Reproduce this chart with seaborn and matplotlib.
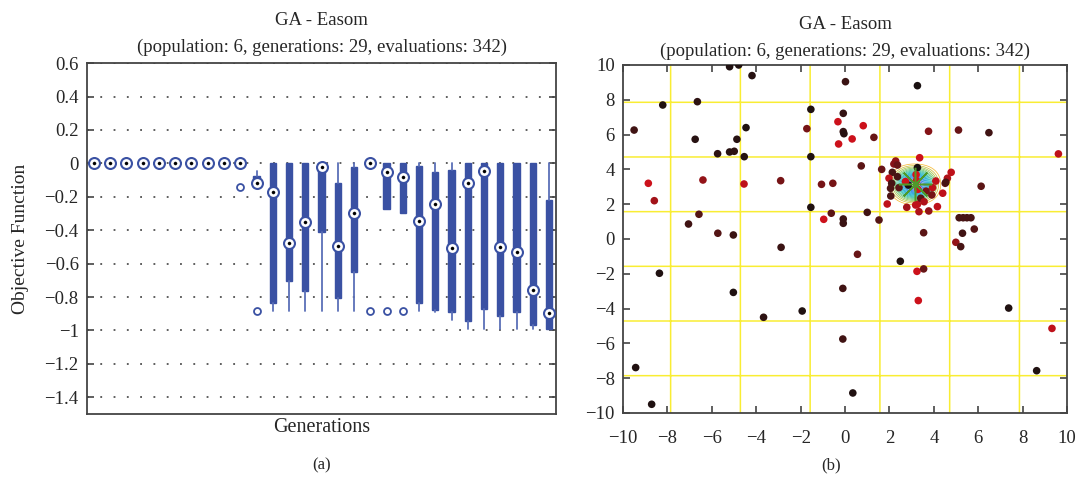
import numpy as np
import pandas as pd
import matplotlib
matplotlib.use("Agg")
import matplotlib.pyplot as plt
import seaborn as sns
from matplotlib.colors import LinearSegmentedColormap

# ---------------- Panel (a): per-generation box summaries ----------------
generations = list(range(1, 30))
box_median = [0, 0, 0, 0, 0, 0, 0, 0, 0, 0,
              -0.115, -0.171, -0.478, -0.348, -0.024, -0.497, -0.298, 0.0, -0.052, -0.082,
              -0.344, -0.245, -0.505, -0.117, -0.048, -0.503, -0.531, -0.760, -0.895]
box_q1 = [0] * 10 + [-0.141, -0.836, -0.704, -0.764, -0.412, -0.806, -0.650, 0.0, -0.275, -0.298,
                     -0.836, -0.877, -0.889, -0.943, -0.871, -0.913, -0.889, -0.967, -0.990]
box_q3 = [0] * 10 + [-0.075, 0, 0, 0, 0, -0.119, -0.020, 0, 0, 0,
                     -0.016, -0.050, -0.038, 0, 0, 0, 0, 0, -0.217]
whisker_low = [0] * 10 + [-0.141, -0.886, -0.886, -0.886, -0.886, -0.886, -0.886, 0.0, -0.275, -0.298,
                          -0.886, -0.890, -0.939, -0.989, -0.990, -0.990, -0.990, -0.990, -0.990]
whisker_high = [0] * 10 + [-0.048] + [0] * 18
outliers = [[]] * 9 + [[-0.141], [-0.886]] + [[]] * 6 + [[-0.886], [-0.886], [-0.886]] + [[]] * 9
ytick_values = [-1.4, -1.2, -1.0, -0.8, -0.6, -0.4, -0.2, 0.0, 0.2, 0.4, 0.6]
ytick_labels = ["\u22121.4", "\u22121.2", "\u22121", "\u22120.8", "\u22120.6", "\u22120.4",
                "\u22120.2", "0", "0.2", "0.4", "0.6"]

# ---------------- Panel (b): evaluated points ----------------
pt_x = [-9.50, -8.21, -8.86, -8.59, -6.65, -6.75, -6.40, -6.58, -7.05, -5.74,
        -5.20, -4.99, -4.87, -5.20, -4.79, -4.19, -4.46, -4.54, -4.55, -2.90,
        -1.72, -1.54, -1.54, -1.54, -1.06, -0.55, -0.96, -0.62, -0.32, -0.29,
        0.02, 3.26, -0.08, -0.08, -0.05, 0.32, 0.82, 1.30, 3.76, 5.11,
        6.48, 9.61, 0.73, 1.65, -0.08, -0.08, 1.00, 1.53, 1.90, 2.78,
        3.33, 3.77, 4.16, 3.26, 4.40, 4.51, 4.61, 4.78, 6.13, 5.14,
        5.32, 5.49, 5.67, 5.29, 5.82, 3.54, 4.99, 5.21, 0.56, 2.49,
        3.24, 3.54, -0.10, 3.30, 7.37, 9.32, -0.10, 8.63, 0.35, -5.73,
        -5.03, -2.88, -8.36, -5.03, -3.67, -1.93, -9.43, -8.71,
        3.36, 2.28, 2.20, 2.13, 3.26, 4.54, 1.98, 2.36, 2.10, 2.05,
        2.43, 2.06, 2.85, 4.09, 3.94, 3.91, 3.41, 3.56, 3.18, 2.36,
        3.20, 3.22, 3.28, 2.72, 3.65]
pt_y = [6.26, 7.70, 3.20, 2.20, 7.89, 5.73, 3.39, 1.42, 0.86, 4.90,
        5.00, 5.04, 5.73, 9.90, 10.0, 9.39, 6.40, 4.73, 3.16, 3.35,
        6.34, 7.45, 4.73, 1.82, 3.14, 3.20, 1.13, 1.48, 6.74, 5.46,
        9.04, 8.81, 7.22, 6.17, 6.05, 5.75, 6.51, 5.84, 6.19, 6.26,
        6.11, 4.89, 4.20, 4.00, 1.15, 0.90, 1.53, 1.09, 2.01, 1.82,
        1.57, 1.61, 1.86, 1.99, 2.63, 3.20, 3.49, 3.83, 3.03, 1.22,
        1.22, 1.22, 1.22, 0.33, 0.57, 0.36, -0.19, -0.44, -0.88, -1.28,
        -1.86, -1.72, -2.84, -3.54, -3.97, -5.14, -5.75, -7.57, -8.85, 0.33,
        0.23, -0.48, -1.97, -3.07, -4.50, -4.14, -7.39, -9.50,
        4.67, 4.48, 4.31, 3.83, 4.10, 3.26, 3.49, 3.58, 3.20, 2.91,
        2.95, 2.47, 3.10, 3.33, 2.95, 2.53, 2.34, 2.14, 1.95, 4.25,
        3.70, 3.35, 2.85, 3.30, 2.75]
pt_shade = [0.30, 0.05, 0.90, 0.75, 0.15, 0.10, 0.70, 0.45, 0.30, 0.15,
            0.10, 0.15, 0.10, 0.05, 0.05, 0.10, 0.05, 0.10, 0.85, 0.60,
            0.60, 0.05, 0.05, 0.05, 0.60, 0.60, 0.90, 0.50, 0.90, 0.90,
            0.25, 0.00, 0.20, 0.20, 0.10, 0.90, 0.90, 0.55, 0.65, 0.55,
            0.30, 0.85, 0.50, 0.55, 0.25, 0.25, 0.30, 0.45, 0.85, 0.75,
            0.80, 0.70, 0.85, 0.85, 0.85, 0.50, 0.80, 0.85, 0.50, 0.35,
            0.35, 0.35, 0.35, 0.30, 0.45, 0.50, 0.70, 0.35, 0.55, 0.05,
            0.90, 0.55, 0.30, 0.90, 0.05, 0.85, 0.30, 0.05, 0.05, 0.45,
            0.25, 0.25, 0.05, 0.05, 0.15, 0.05, 0.05, 0.05,
            0.90, 0.70, 0.65, 0.35, 0.00, 0.35, 0.85, 0.35, 0.35, 0.40,
            0.50, 0.40, 0.00, 0.85, 0.85, 0.60, 0.50, 0.80, 0.85, 0.55,
            0.95, 0.95, 0.95, 0.90, 0.60]
optimum_x = [np.pi]
optimum_y = [np.pi]
contour_levels = [-0.95, -0.9, -0.85, -0.8, -0.75, -0.7, -0.65, -0.6, -0.55, -0.5,
                  -0.45, -0.4, -0.35, -0.3, -0.25, -0.2, -0.15, -0.1, 0.0]
axis_ticks = [-10, -8, -6, -4, -2, 0, 2, 4, 6, 8, 10]

# ---------------- style ----------------
sns.set_theme(style="white")
plt.rcParams["font.family"] = ["Liberation Serif", "DejaVu Serif"]
plt.rcParams["axes.unicode_minus"] = True

BLUE = "#3a51a3"
WHISK = "#5a6fb8"
SPINE = "#444444"
TITLE = "GA - Easom\n(population: 6, generations: 29, evaluations: 342)"

parula = LinearSegmentedColormap.from_list("parula_like", [
    (0.00, (0.208, 0.166, 0.529)), (0.15, (0.084, 0.372, 0.882)),
    (0.30, (0.078, 0.560, 0.860)), (0.45, (0.023, 0.680, 0.800)),
    (0.60, (0.200, 0.740, 0.620)), (0.72, (0.420, 0.780, 0.420)),
    (0.82, (0.720, 0.760, 0.260)), (0.90, (0.960, 0.730, 0.220)),
    (1.00, (0.976, 0.930, 0.200))])
dots_cmap = LinearSegmentedColormap.from_list("black_red", ["#1a1111", "#5a1515", "#e8101c"])

fig = plt.figure(figsize=(10.82, 4.82), dpi=100)

# ================= Panel (a) =================
ax1 = fig.add_axes([0.0804, 0.141, 0.4335, 0.728])
stats = []
for m, a, b, lo, hi, fl in zip(box_median, box_q1, box_q3, whisker_low, whisker_high, outliers):
    stats.append(dict(med=m, q1=a, q3=b, whislo=lo, whishi=hi, fliers=fl))
ax1.bxp(stats, positions=generations, widths=0.38, patch_artist=True, showcaps=False,
        boxprops=dict(facecolor=BLUE, edgecolor=BLUE, linewidth=1.0),
        whiskerprops=dict(color=WHISK, linewidth=1.3),
        medianprops=dict(linewidth=0),
        flierprops=dict(marker="o", markerfacecolor="white", markeredgecolor=BLUE,
                        markersize=5.0, markeredgewidth=1.3))
med_df = pd.DataFrame({"gen": generations, "median": box_median})
sns.scatterplot(data=med_df, x="gen", y="median", ax=ax1, s=62, color="white",
                edgecolor=BLUE, linewidth=1.5, zorder=5, legend=False)
sns.scatterplot(data=med_df, x="gen", y="median", ax=ax1, s=5, color="black",
                edgecolor="black", linewidth=0.3, zorder=6, legend=False)
ax1.set_xlim(0.57, 29.43)
ax1.set_ylim(-1.5, 0.6)
ax1.set_yticks(ytick_values)
ax1.set_yticklabels(ytick_labels)
ax1.set_xticks([])
ax1.yaxis.grid(True, linestyle=(0, (1.2, 7.5)), color="#333333", linewidth=1.1)
ax1.xaxis.grid(False)
ax1.set_axisbelow(True)
ax1.tick_params(axis="y", direction="in", left=True, right=True, length=5, width=1.2,
                labelsize=13.5, color=SPINE, pad=6)
for s in ax1.spines.values():
    s.set_color(SPINE)
    s.set_linewidth(1.3)
ax1.set_xlabel("Generations", fontsize=14.5, labelpad=3)
ax1.set_ylabel("Objective Function", fontsize=14, labelpad=11)
ax1.set_title(TITLE, fontsize=13.5, linespacing=1.75, pad=8)

# ================= Panel (b) =================
ax2 = fig.add_axes([0.5758, 0.1432, 0.4104, 0.722])
grid = np.linspace(-10, 10, 1001)
GX, GY = np.meshgrid(grid, grid)
GZ = -np.cos(GX) * np.cos(GY) * np.exp(-((GX - np.pi) ** 2 + (GY - np.pi) ** 2))
lws = [0.55] * (len(contour_levels) - 1) + [1.1]
ax2.contour(GX, GY, GZ, levels=contour_levels, cmap=parula, vmin=-1, vmax=0,
            linewidths=lws, zorder=1)
pts = pd.DataFrame({"x": pt_x, "y": pt_y, "shade": pt_shade})
sns.scatterplot(data=pts, x="x", y="y", hue="shade", palette=dots_cmap, hue_norm=(0, 1),
                s=30, edgecolor="none", linewidth=0, legend=False, ax=ax2, zorder=3)
ax2.plot(optimum_x, optimum_y, linestyle="none", marker=(8, 2, 0), markersize=24,
         markeredgecolor="#4f9a2a", markeredgewidth=1.1, zorder=4)
ax2.set_xlim(-10, 10)
ax2.set_ylim(-10, 10)
ax2.set_xticks(axis_ticks)
ax2.set_yticks(axis_ticks)
ax2.set_xlabel("")
ax2.set_ylabel("")
ax2.tick_params(direction="in", top=True, bottom=True, left=True, right=True,
                length=5, width=1.2, labelsize=13.5, color=SPINE, pad=6)
ax2.tick_params(axis="x", pad=12)
for s in ax2.spines.values():
    s.set_color(SPINE)
    s.set_linewidth(1.3)
ax2.set_title(TITLE, fontsize=13.5, linespacing=1.75, pad=6.5)

fig.text(322 / 1082, 1 - 465 / 482, "(a)", ha="center", va="center", fontsize=12)
fig.text(831 / 1082, 1 - 465 / 482, "(b)", ha="center", va="center", fontsize=12)

fig.savefig("out.png", dpi=100)
